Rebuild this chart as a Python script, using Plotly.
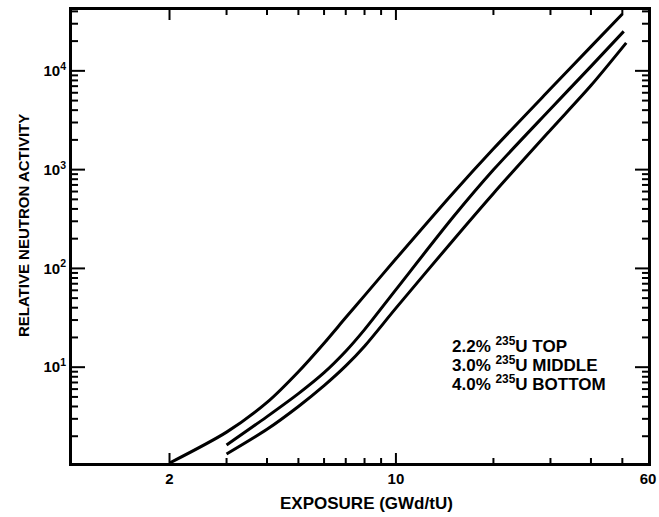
import math
import plotly.graph_objects as go

# Data (exposure in GWd/tU, relative neutron activity)
top_exposure = [2, 3, 4, 5, 6, 7, 8, 10, 15, 20, 30, 40, 50]
top_activity = [1.07, 2.2, 4.4, 9.0, 17.5, 31.8, 53, 125, 577, 1625, 6580, 17600, 37600]

mid_exposure = [3, 4, 5, 6, 7, 8, 10, 15, 20, 30, 40, 50.5]
mid_activity = [1.63, 3.16, 5.4, 8.8, 14.5, 24.0, 61, 329, 995, 4110, 11100, 25100]

bot_exposure = [3, 4, 5, 6, 7, 8, 10, 15, 20, 30, 40, 51.4]
bot_activity = [1.32, 2.35, 4.0, 6.5, 10.3, 16.3, 39.6, 192, 574, 2520, 7100, 19200]

series_names = ["2.2% 235U TOP", "3.0% 235U MIDDLE", "4.0% 235U BOTTOM"]

x_tickvals = [2, 10, 60]
x_ticktext = ["2", "10", "60"]
x_minor = [3, 4, 5, 6, 7, 8, 9, 20, 30, 40, 50]

y_tickvals = [10, 100, 1000, 10000]
y_ticktext = ["10<sup>1</sup>", "10<sup>2</sup>", "10<sup>3</sup>", "10<sup>4</sup>"]
y_minor = [m * 10 ** k for k in range(0, 5) for m in range(2, 10)]

legend_lines = ["2.2% <sup>235</sup>U TOP", "3.0% <sup>235</sup>U MIDDLE", "4.0% <sup>235</sup>U BOTTOM"]

FONT = "Liberation Sans, Arial, Helvetica, sans-serif"
X_RANGE = [0, 1.7782]
Y_RANGE = [0.03, 4.616]

fig = go.Figure()
for xs, ys, nm in [(top_exposure, top_activity, series_names[0]),
                   (mid_exposure, mid_activity, series_names[1]),
                   (bot_exposure, bot_activity, series_names[2])]:
    fig.add_trace(go.Scatter(x=xs, y=ys, mode="lines", name=nm,
                             line=dict(color="black", width=3, shape="spline", smoothing=0.8),
                             showlegend=False))

fig.update_layout(
    width=659, height=517,
    margin=dict(l=72, r=11, t=10, b=54, autoexpand=False),
    paper_bgcolor="white", plot_bgcolor="rgba(0,0,0,0)",
    font=dict(family=FONT, color="black", size=15, weight="bold"),
    xaxis=dict(
        type="log", range=X_RANGE, automargin=False,
        tickmode="array", tickvals=x_tickvals, ticktext=x_ticktext, ticks="",
        showline=True, linecolor="black", linewidth=3, mirror=True,
        showgrid=False, zeroline=False,
        tickfont=dict(size=15, family=FONT, weight="bold"),
    ),
    yaxis=dict(
        type="log", range=Y_RANGE, automargin=False,
        tickmode="array", tickvals=y_tickvals, ticktext=y_ticktext, ticks="",
        showline=True, linecolor="black", linewidth=3, mirror=True,
        showgrid=False, zeroline=False,
        tickfont=dict(size=15, family=FONT, weight="bold"),
    ),
)

# inward tick marks on all four sides, placed at the tick values (shapes take raw data values)
tick_line = dict(color="black", width=2)
for vals, length in [(x_tickvals, 10), (x_minor, 5)]:
    for v in vals:
        lv = math.log10(v)
        if not (X_RANGE[0] < lv < X_RANGE[1] - 1e-3):
            continue
        for anchor, direction in [(0, 1), (1, -1)]:
            fig.add_shape(type="line", xref="x", yref="paper", x0=v, x1=v,
                          ysizemode="pixel", yanchor=anchor, y0=0, y1=direction * length,
                          line=tick_line, layer="above")
for vals, length in [(y_tickvals, 13), (y_minor, 6)]:
    for v in vals:
        lv = math.log10(v)
        if not (Y_RANGE[0] < lv < Y_RANGE[1]):
            continue
        for anchor, direction in [(0, 1), (1, -1)]:
            fig.add_shape(type="line", xref="paper", yref="y", y0=v, y1=v,
                          xsizemode="pixel", xanchor=anchor, x0=0, x1=direction * length,
                          line=tick_line, layer="above")

# axis titles
fig.add_annotation(xref="paper", yref="paper", x=0.512, y=-0.0905, xanchor="center", yanchor="middle",
                   text="EXPOSURE (GWd/tU)", showarrow=False,
                   font=dict(size=17, family=FONT, weight="bold"))
fig.add_annotation(xref="paper", yref="paper", x=-0.085, y=0.523, xanchor="center", yanchor="middle",
                   text="RELATIVE NEUTRON ACTIVITY", textangle=-90, showarrow=False,
                   font=dict(size=15, family=FONT, weight="bold"))

# series labels
for line_text, ypos in zip(legend_lines, [0.2605, 0.2185, 0.1766]):
    fig.add_annotation(xref="paper", yref="paper", x=0.656, y=ypos, xanchor="left", yanchor="middle",
                       text=line_text, align="left", showarrow=False,
                       font=dict(size=17, family=FONT, color="black", weight="bold"))

fig.write_html("out.html", config={"displayModeBar": False},
               post_script="document.body.style.margin='0';")
